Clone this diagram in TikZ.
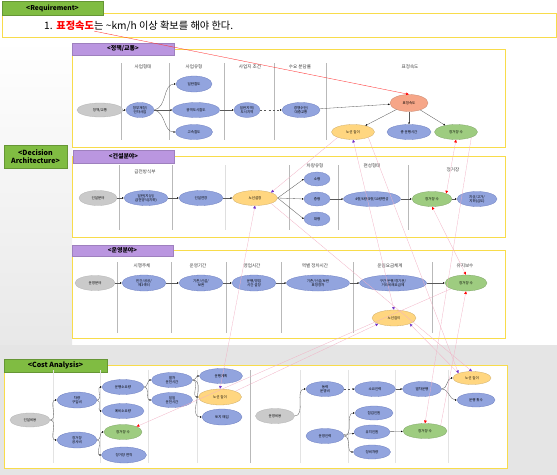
\documentclass[tikz,border=0pt]{standalone}
\usepackage{fontspec}
\setmainfont{Noto Sans CJK KR}
\usetikzlibrary{shapes,arrows.meta,positioning}
\definecolor{jaune}{RGB}{248,220,75}
\definecolor{violetT}{RGB}{186,150,224}
\definecolor{vertT}{RGB}{128,188,66}
\definecolor{bleuN}{RGB}{146,164,222}
\definecolor{bleuB}{RGB}{108,126,192}
\definecolor{grisN}{RGB}{202,202,202}
\definecolor{orangeN}{RGB}{246,166,136}
\definecolor{jauneN}{RGB}{255,214,128}
\definecolor{vertN}{RGB}{158,204,128}
\definecolor{rose}{RGB}{242,176,196}
\definecolor{pourpre}{RGB}{112,48,200}
\newcommand{\Cloison}[3]{\draw[cloison] (#1,#2) -- (#1,#3)}
\newcommand{\Entete}[4]{\node[entete] (#1) at (#2,#3) {#4}}

\begin{document}
\begin{tikzpicture}[x=0.5mm,y=-0.5mm,
	nd/.style={ellipse,draw,line width=0.4pt,inner sep=0pt,minimum height=7.5mm,align=center,font=\fontsize{5}{6}\selectfont},
	gris/.style={nd,fill=grisN,draw=gray!60},
	bleu/.style={nd,fill=bleuN,draw=bleuB},
	jne/.style={nd,fill=jauneN,draw=jauneN!80!black},
	vrt/.style={nd,fill=vertN,draw=vertN!80!black},
	orng/.style={nd,fill=orangeN,draw=orangeN!80!black},
	lien/.style={draw=gray!70!black,line width=0.45pt,-{Latex[length=2.6pt,width=2.4pt,color=black]}},
	vio/.style={draw=rose,line width=0.4pt,-{Latex[length=4pt,width=4pt,color=pourpre]}},
	vioo/.style={draw=rose,line width=0.4pt,{Latex[length=4pt,width=4pt,color=pourpre]}-{Latex[length=4pt,width=4pt,color=pourpre]}},
	rge/.style={draw=rose,line width=0.4pt,-{Latex[length=4pt,width=4pt,color=red]}},
	rgee/.style={draw=rose,line width=0.4pt,{Latex[length=4pt,width=4pt,color=red]}-{Latex[length=4pt,width=4pt,color=red]}},
	cloison/.style={draw=gray!55,line width=0.6pt},
	entete/.style={font=\fontsize{6.5}{7}\selectfont,text=black!75},
	cadre/.style={draw=jaune,line width=1pt,fill=white},
	etqV/.style={rectangle,inner sep=0pt,fill=violetT,draw=violetT!85!black,font=\fontsize{8.5}{9}\selectfont\bfseries},
	etqG/.style={rectangle,inner sep=0pt,fill=vertT,draw=vertT!80!black,align=center,font=\fontsize{10}{12}\selectfont\bfseries}]
\useasboundingbox (0,0) rectangle (557,475);

%Fond
\fill[white] (0,0) rectangle (557,475);
\shade[top color=white,bottom color=gray!18] (0,40) rectangle (72,345);
\fill[gray!20] (0,345) rectangle (557,475);

%Requirement
\draw[cadre] (2,13) rectangle (556,37);
\node[etqG,minimum width=50.5mm,minimum height=7mm,font=\fontsize{9.5}{10}\selectfont\bfseries] (Treq) at (52.5,8) {<Requirement>};
\node[anchor=base west,inner sep=0pt,font=\fontsize{14.5}{16}\selectfont] (Rnum) at (44,30) {1.};
\node[base right=5pt of Rnum,inner sep=0pt,text=red,font=\fontsize{14.5}{16}\selectfont\bfseries] (Rkey) {표정속도};
\node[base right=0pt of Rkey,inner sep=0pt,font=\fontsize{14.5}{16}\selectfont] (Rsuite) {는 \textasciitilde km/h 이상 확보를 해야 한다.};

%Cadres
\draw[cadre] (72,49) rectangle (505,147);
\draw[cadre] (72,156) rectangle (505,237);
\draw[cadre] (72,250) rectangle (505,338);
\draw[cadre] (4,365) rectangle (507,468);
\node[etqV,minimum width=51mm,minimum height=6mm] (Tpol) at (123,49) {<정책/교통>};
\node[etqV,minimum width=50.5mm,minimum height=6.5mm] (Tcon) at (123.5,156.5) {<건설분야>};
\node[etqV,minimum width=50.5mm,minimum height=5.5mm] (Topr) at (122.5,250.5) {<운영분야>};
\node[etqG,minimum width=31.5mm,minimum height=11.5mm] (Tda) at (35.5,156.5) {<Decision\\Architecture>};
\node[etqG,minimum width=51.5mm,minimum height=6.5mm] (Tcost) at (55.5,365.5) {<Cost Analysis>};

%Cloisons
\foreach \x in {121,169,224,274,326} {\Cloison{\x}{63}{140};}
\foreach \x in {119,172,289,338,408} {\Cloison{\x}{165}{230};}
\draw[cloison,draw=gray!25] (225,165) -- (225,230);
\foreach \x in {117,171,226,281,353,432} {\Cloison{\x}{262}{333};}
\foreach \x in {53,100,148,197,300,348,395,448} {\draw[cloison,draw=gray!22] (\x,370) -- (\x,463);}
\Cloison{250}{370}{463};

%Entetes
\Entete{H1}{143}{67}{사업형태};
\Entete{H2}{194}{67}{사업유형};
\Entete{H3}{250}{67}{사업지 조건};
\Entete{H4}{300}{67}{수요 분담률};
\Entete{H5}{410}{67}{표정속도};
\Entete{H6}{145}{172}{급전방식부};
\Entete{H7}{315}{166}{차량유형};
\Entete{H8}{372}{166}{편성형태};
\Entete{H9}{453}{170}{정거장};
\Entete{H10}{142}{266}{시행주체};
\Entete{H11}{198}{266}{운영기간};
\Entete{H12}{252}{266}{영업시간};
\Entete{H13}{315}{266}{역별 정차시간};
\Entete{H14}{390}{266}{운임요금체계};
\Entete{H15}{465}{266}{유지보수};

%Politique / trafic
\node[gris,minimum width=23mm,minimum height=7mm] (P0) at (100,110) {정책/교통};
\node[bleu,minimum width=14mm] (P1) at (140,110) {정부재정/\\민자사업};
\node[bleu,minimum width=18mm,minimum height=8mm] (P2) at (194,84) {일반철도};
\node[bleu,minimum width=23.5mm] (P3) at (196,110) {광역도시철도};
\node[bleu,minimum width=18.5mm] (P4) at (194,132) {고속철도};
\node[bleu,minimum width=13mm] (P5) at (247,110) {일반지역/\\도시지역};
\node[bleu,minimum width=19mm] (P6) at (301,110) {경쟁수단/\\대중교통};
\node[orng,minimum width=19mm,minimum height=8.5mm] (P7) at (409,103) {표정속도};
\node[jne,minimum width=21.5mm] (P8) at (353,132) {노선 길이};
\node[bleu,minimum width=22mm] (P9) at (409,132) {총 운행시간};
\node[vrt,minimum width=21.5mm] (P10) at (456,132) {정거장 수};

\draw[lien] (P0) -- (P1);
\draw[lien] (P1.east) to[out=10,in=180] (P2.west);
\draw[lien] (P1) -- (P3);
\draw[lien] (P1.east) to[out=-10,in=180] (P4.west);
\draw[lien] (P3) -- (P5);
\draw[lien,dashed] (P5) -- (P6);
\draw[lien] (P6) -- (P7);
\draw[lien] (P7) -- (P8);
\draw[lien] (P7) -- (P9);
\draw[lien] (P7) -- (P10);

%Construction
\node[gris,minimum width=19mm] (C0) at (98,198) {건설분야};
\node[bleu,minimum width=22mm] (C1) at (146,198) {일반(지상)/\\급전방식(지하)};
\node[bleu,minimum width=22mm] (C2) at (201,198) {건설연장};
\node[jne,minimum width=22.5mm] (C3) at (255,198) {노선설정};
\node[bleu,minimum width=13mm,minimum height=7mm] (C4) at (317,179) {소형};
\node[bleu,minimum width=13mm,minimum height=7mm] (C5) at (317,199) {중형};
\node[bleu,minimum width=13mm,minimum height=7mm] (C6) at (317,219) {대형};
\node[bleu,minimum width=28.5mm] (C7) at (372,199) {4량/6량/8량/10량편성};
\node[vrt,minimum width=20mm] (C8) at (432,199) {정거장 수};
\node[bleu,minimum width=20mm] (C9) at (477,199) {지상/고가/\\지하(심도)};

\draw[lien] (C0) -- (C1);
\draw[lien] (C1) -- (C2);
\draw[lien] (C2) -- (C3);
\draw[lien] (C3.east) -- (C4.west);
\draw[lien] (C3.east) -- (C5.west);
\draw[lien] (C3.east) -- (C6.west);
\draw[lien] (C5) -- (C7);
\draw[lien] (C7) -- (C8);
\draw[lien] (C8) -- (C9);

%Exploitation
\node[gris,minimum width=20mm] (O0) at (95,283) {운영분야};
\node[bleu,minimum width=22mm,minimum height=8mm] (O1) at (144,283) {민간/공공/\\제3섹터};
\node[bleu,minimum width=22mm,minimum height=8mm] (O2) at (201,283) {기존/신설/\\보완};
\node[bleu,minimum width=22mm,minimum height=8mm] (O3) at (254,283) {운행/영업\\시간 설정};
\node[bleu,minimum width=31.5mm,minimum height=8mm] (O4) at (318,283) {기존/신설/보완\\표정정차};
\node[bleu,minimum width=33.5mm,minimum height=8mm] (O5) at (393,283) {구간 운행/정기권/\\거리비례요금제};
\node[vrt,minimum width=21mm,minimum height=8mm] (O6) at (466,283) {정거장 수};
\node[jne,minimum width=22mm,minimum height=8mm] (O7) at (394,318) {노선길이};

\draw[lien] (O0) -- (O1);
\draw[lien] (O1) -- (O2);
\draw[lien] (O2) -- (O3);
\draw[lien] (O3) -- (O4);
\draw[lien] (O4) -- (O5);
\draw[lien] (O5) -- (O6);

%Couts : construction
\node[gris,minimum width=20mm,minimum height=7mm] (K0) at (30,420) {건설비용};
\node[bleu,minimum width=20mm,minimum height=8mm] (K1) at (77,400) {차량\\구입비};
\node[bleu,minimum width=20mm,minimum height=8mm] (K2) at (77,440) {정거장\\공사비};
\node[bleu,minimum width=21mm] (K3) at (123,387) {운행소요량};
\node[bleu,minimum width=21mm] (K4) at (123,411) {예비소요량};
\node[vrt,minimum width=19mm] (K5) at (123,432) {정거장 수};
\node[bleu,minimum width=22.5mm,minimum height=8mm] (K6) at (124,455) {정거장 면적};
\node[bleu,minimum width=20.5mm] (K7) at (172,380) {열차\\운전시간};
\node[bleu,minimum width=20.5mm] (K8) at (172,400) {일일\\운전시간};
\node[bleu,minimum width=21.5mm] (K9) at (221,376) {운행계획};
\node[jne,minimum width=21.5mm,minimum height=8mm] (K10) at (220,397) {노선 길이};
\node[bleu,minimum width=20mm,minimum height=8mm] (K11) at (222,417) {토지 매입};

\draw[lien] (K0.east) to[out=0,in=180] (K1.west);
\draw[lien] (K0.east) to[out=0,in=180] (K2.west);
\draw[lien] (K1.east) to[out=0,in=180] (K3.west);
\draw[lien] (K1.east) to[out=0,in=180] (K4.west);
\draw[lien] (K2.east) to[out=0,in=180] (K5.west);
\draw[lien] (K2.east) to[out=0,in=180] (K6.west);
\draw[lien] (K3.east) to[out=0,in=180] (K7.west);
\draw[lien] (K3.east) to[out=0,in=180] (K8.west);
\draw[lien] (K7.east) to[out=0,in=180] (K9.west);
\draw[lien] (K7.east) to[out=0,in=180] (K10.west);
\draw[lien] (K7.east) to[out=0,in=180] (K11.west);

%Couts : exploitation
\node[gris,minimum width=19.5mm] (K12) at (275,416) {운영비용};
\node[bleu,minimum width=19mm] (K13) at (325,389) {동력\\운영비};
\node[bleu,minimum width=20.5mm] (K14) at (375,389) {소요인력};
\node[bleu,minimum width=19.5mm] (K15) at (422,389) {열차운행};
\node[jne,minimum width=19mm,minimum height=6.5mm] (K16) at (472,378) {노선 길이};
\node[bleu,minimum width=19mm,minimum height=7mm] (K17) at (476,400) {운행 횟수};
\node[bleu,minimum width=19mm] (K18) at (325,436) {운영인력};
\node[bleu,minimum width=19mm,minimum height=7mm] (K19) at (374,413) {점검인원};
\node[bleu,minimum width=18mm,minimum height=7mm] (K20) at (372,432) {유지인원};
\node[bleu,minimum width=18.5mm,minimum height=7mm] (K21) at (372,452) {정비차량};
\node[vrt,minimum width=22mm] (K22) at (425,431) {정거장 수};

\draw[lien] (K12.east) to[out=0,in=180] (K13.west);
\draw[lien,dashed] (K13) -- (K14);
\draw[lien] (K14) -- (K15);
\draw[lien] (K15.east) to[out=0,in=180] (K16.west);
\draw[lien] (K15.east) to[out=0,in=180] (K17.west);
\draw[lien] (K18.east) to[out=0,in=180] (K19.west);
\draw[lien] (K18) -- (K20);
\draw[lien] (K18.east) to[out=0,in=180] (K21.west);
\draw[lien] (K20) -- (K22);

%Liens entre cadres
\draw[draw=red!80,line width=0.5pt,-{Latex[length=4pt,width=4pt,color=red]}] (Rkey.south east) -- (P7.north);
\draw[vioo] (P8.south) -- (O7.north);
\draw[vio] (P8.south west) -- (C3.north east);
\draw[vioo] (C3.south) -- (K10.north);
\draw[vio] (K10.north east) -- (O7.south west);
\draw[vio] (K16.north west) -- (O7.south east);
\draw[vio] (C3.south east) -- (K16.north);
\draw[vio] (P8.south east) -- (K16.north west);
\draw[rgee] (C8.north east) -- (P10.south);
\draw[rgee] (C8.south) -- (O6.north);
\draw[rge] (O6.south west) -- (K5.north east);
\draw[rge] (K22.north east) -- (O6.south);
\draw[rge] (P10.south east) -- (K22.north);

\end{tikzpicture}
\end{document}
